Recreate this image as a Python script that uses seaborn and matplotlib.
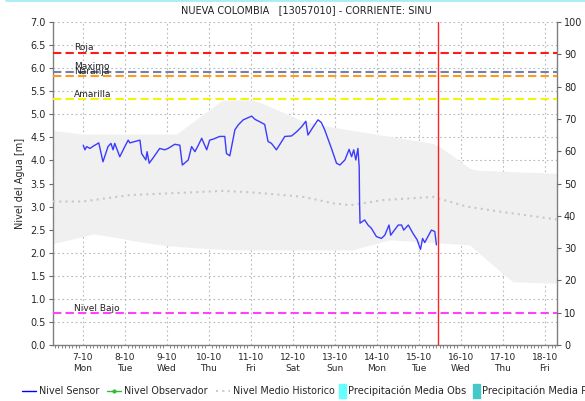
import matplotlib
matplotlib.use("Agg")
import matplotlib.pyplot as plt
import seaborn as sns
import numpy as np
from matplotlib.lines import Line2D
from matplotlib.patches import Rectangle
from matplotlib.legend_handler import HandlerPatch
from matplotlib.ticker import MultipleLocator, FormatStrFormatter

# Umbrales (m)
thr_names = ["Roja", "Maximo", "Naranja", "Amarilla", "Nivel Bajo"]
thr_values = [6.33, 5.92, 5.83, 5.33, 0.69]
thr_colors = ["#ff1a1a", "#7080b0", "#ff9a1a", "#f5f500", "#ff40ff"]

# eje x en dias desde 7-10
day_labels = ["7-10", "8-10", "9-10", "10-10", "11-10", "12-10",
              "13-10", "14-10", "15-10", "16-10", "17-10", "18-10"]
weekdays = ["Mon", "Tue", "Wed", "Thu", "Fri", "Sat",
            "Sun", "Mon", "Tue", "Wed", "Thu", "Fri"]
x_start, x_end = -0.71, 11.29
now_day = 8.45

# Nivel sensor
sensor_day = [0.01, 0.05, 0.09, 0.17, 0.25, 0.38, 0.48, 0.60, 0.67, 0.72, 0.76, 0.88,
              1.00, 1.08, 1.12, 1.36, 1.40, 1.50, 1.53, 1.58, 1.67, 1.83, 1.95, 2.03,
              2.19, 2.31, 2.37, 2.51, 2.59, 2.67, 2.75, 2.83, 2.95, 3.02, 3.10, 3.26,
              3.38, 3.42, 3.50, 3.62, 3.70, 3.82, 4.02, 4.10, 4.21, 4.33, 4.41, 4.49,
              4.61, 4.81, 4.97, 5.09, 5.21, 5.31, 5.36, 5.48, 5.60, 5.68, 5.76, 5.92,
              6.04, 6.12, 6.24, 6.34, 6.40, 6.45, 6.50, 6.55, 6.58, 6.59, 6.60, 6.71,
              6.79, 6.87, 6.99, 7.11, 7.19, 7.29, 7.33, 7.51, 7.59, 7.64, 7.75, 7.86,
              7.96, 8.04, 8.09, 8.14, 8.30, 8.38, 8.42]
sensor_level = [4.33, 4.23, 4.30, 4.26, 4.31, 4.38, 3.97, 4.30, 4.37, 4.23, 4.37, 4.08,
                4.30, 4.44, 4.38, 4.44, 4.15, 4.01, 4.19, 3.94, 4.05, 4.26, 4.23, 4.26,
                4.35, 4.33, 3.90, 4.01, 4.30, 4.19, 4.33, 4.48, 4.23, 4.44, 4.46, 4.52,
                4.52, 4.15, 4.10, 4.66, 4.77, 4.88, 4.96, 4.89, 4.84, 4.78, 4.41, 4.37,
                4.23, 4.52, 4.53, 4.62, 4.73, 4.85, 4.55, 4.72, 4.88, 4.82, 4.66, 4.26,
                3.94, 3.90, 4.01, 4.24, 4.08, 4.23, 4.01, 4.26, 3.86, 3.07, 2.64, 2.71,
                2.60, 2.53, 2.35, 2.31, 2.38, 2.60, 2.38, 2.60, 2.60, 2.49, 2.60, 2.42,
                2.28, 2.07, 2.31, 2.22, 2.49, 2.46, 2.17]

# Banda historica (max / min) y nivel medio
band_up_day = [-0.71, 0.0, 2.23, 2.79, 3.33, 4.05, 4.37, 5.17, 5.95, 8.33, 8.50, 9.21, 9.37, 11.29]
band_up = [4.65, 4.57, 4.57, 4.95, 5.31, 5.31, 5.20, 4.88, 4.72, 4.37, 4.30, 3.83, 3.79, 3.72]
band_lo_day = [-0.71, 0.01, 0.25, 0.80, 1.20, 2.00, 2.79, 3.58, 6.40, 7.31, 9.21, 10.00, 10.24, 11.29]
band_lo = [2.20, 2.35, 2.41, 2.33, 2.26, 2.15, 2.10, 2.06, 2.06, 2.28, 2.17, 1.55, 1.37, 1.34]
mean_day = [-0.71, 0.0, 0.80, 1.12, 2.39, 3.34, 3.98, 4.77, 5.25, 5.96, 6.36, 7.15, 8.34,
            9.14, 9.93, 11.29]
mean_level = [3.11, 3.11, 3.21, 3.25, 3.30, 3.34, 3.31, 3.25, 3.21, 3.07, 3.03, 3.14, 3.21,
              3.00, 2.89, 2.72]

sns.set_theme(style="white")
plt.rcParams['font.family'] = ['DejaVu Sans']

fig = plt.figure(figsize=(5.85, 4.01), dpi=100)
ax = fig.add_axes([53 / 585, 1 - 345 / 401, 504 / 585, 323 / 401])

# banda gris
grid_x = np.union1d(band_up_day, band_lo_day)
ax.fill_between(grid_x, np.interp(grid_x, band_lo_day, band_lo),
                np.interp(grid_x, band_up_day, band_up),
                color="#f0f0f0", lw=0, zorder=1)

sns.lineplot(x=mean_day, y=mean_level, ax=ax, color="#c8c8c8", lw=1.5,
             linestyle=(0, (1, 2)), zorder=3)

for name, val, col in zip(thr_names, thr_values, thr_colors):
    ax.axhline(val, color=col, lw=1.5, linestyle=(0, (4, 2)), zorder=4)
    ax.text(-0.21, val + 0.01, name, fontsize=6.5, color="#222222", va="bottom", ha="left", zorder=5)

sns.lineplot(x=sensor_day, y=sensor_level, ax=ax, color="#3b3bff", lw=1, zorder=6)
ax.axvline(now_day, color="#ff2020", lw=1, zorder=7)

ax.set_xlim(x_start, x_end)
ax.set_ylim(0, 7)
ax.set_xticks(range(len(day_labels)))
ax.set_xticklabels([d + "\n" + w for d, w in zip(day_labels, weekdays)], fontsize=6.5, linespacing=1.3)
ax.xaxis.set_minor_locator(MultipleLocator(1 / 12))
ax.yaxis.set_major_locator(MultipleLocator(0.5))
ax.yaxis.set_major_formatter(FormatStrFormatter("%.1f"))
ax.tick_params(axis="y", labelsize=7, length=3, width=0.8, color="#666666", direction="out", left=True, pad=2)
ax.tick_params(axis="x", which="major", length=0, pad=6)
ax.tick_params(axis="x", which="minor", length=2, width=0.5, color="#555555", bottom=True)
ax.grid(True, color="#b8b8b8", lw=0.8, linestyle=(0, (1.5, 2.5)), zorder=0)
ax.set_axisbelow(True)
ax.set_ylabel("Nivel del Agua [m]", fontsize=7, labelpad=4)
ax.set_xlabel("")

ax.spines["top"].set_visible(False)
for s in ["left", "bottom", "right"]:
    ax.spines[s].set_color("#808080")
    ax.spines[s].set_linewidth(1)

ax2 = ax.twinx()
ax2.set_ylim(0, 100)
ax2.yaxis.set_major_locator(MultipleLocator(10))
ax2.tick_params(axis="y", labelsize=7, length=3, width=0.8, color="#666666", direction="out", pad=2)
for s in ax2.spines.values():
    s.set_visible(False)

fig.text(0.523, 0.975, "NUEVA COLOMBIA   [13057010] - CORRIENTE: SINU", ha="center", va="center",
         fontsize=7, color="#222222")
fig.add_artist(Line2D([0.01, 1], [0.999, 0.999], color="#a8eef6", lw=2, transform=fig.transFigure))


def tall_bar(legend, orig_handle, xdescent, ydescent, width, height, fontsize):
    return Rectangle((-xdescent, -ydescent - 0.5 * height), width, 2.0 * height)


leg_y = 1 - 391 / 401

# leyenda: lineas
line_handles = [
    Line2D([], [], color="#0000ff", lw=1),
    Line2D([], [], color="#33bb33", lw=1, marker="o", markersize=2),
    Line2D([], [], color="#cccccc", lw=1.5, linestyle=(0, (1, 2))),
]
line_labels = ["Nivel Sensor", "Nivel Observador", "Nivel Medio Historico"]
fig.legend(line_handles, line_labels, loc="center left", bbox_to_anchor=(22 / 585, leg_y),
           ncol=3, frameon=False, fontsize=6.9, handlelength=1.45, handletextpad=0.3,
           columnspacing=0.85, borderpad=0, borderaxespad=0)

# leyenda: precipitacion
bar_handles = [Rectangle((0, 0), 1, 1, color="#66ffff"),
               Rectangle((0, 0), 1, 1, color="#44c8c8")]
bar_labels = ["Precipitación Media Obs", "Precipitación Media Pronosticada"]
fig.legend(bar_handles, bar_labels, loc="center left", bbox_to_anchor=(339 / 585, leg_y),
           ncol=2, frameon=False, fontsize=7.1, handlelength=0.7, handletextpad=0.2,
           columnspacing=0.7, borderpad=0, borderaxespad=0,
           handler_map={Rectangle: HandlerPatch(patch_func=tall_bar)})

fig.savefig("out.png", dpi=100)
